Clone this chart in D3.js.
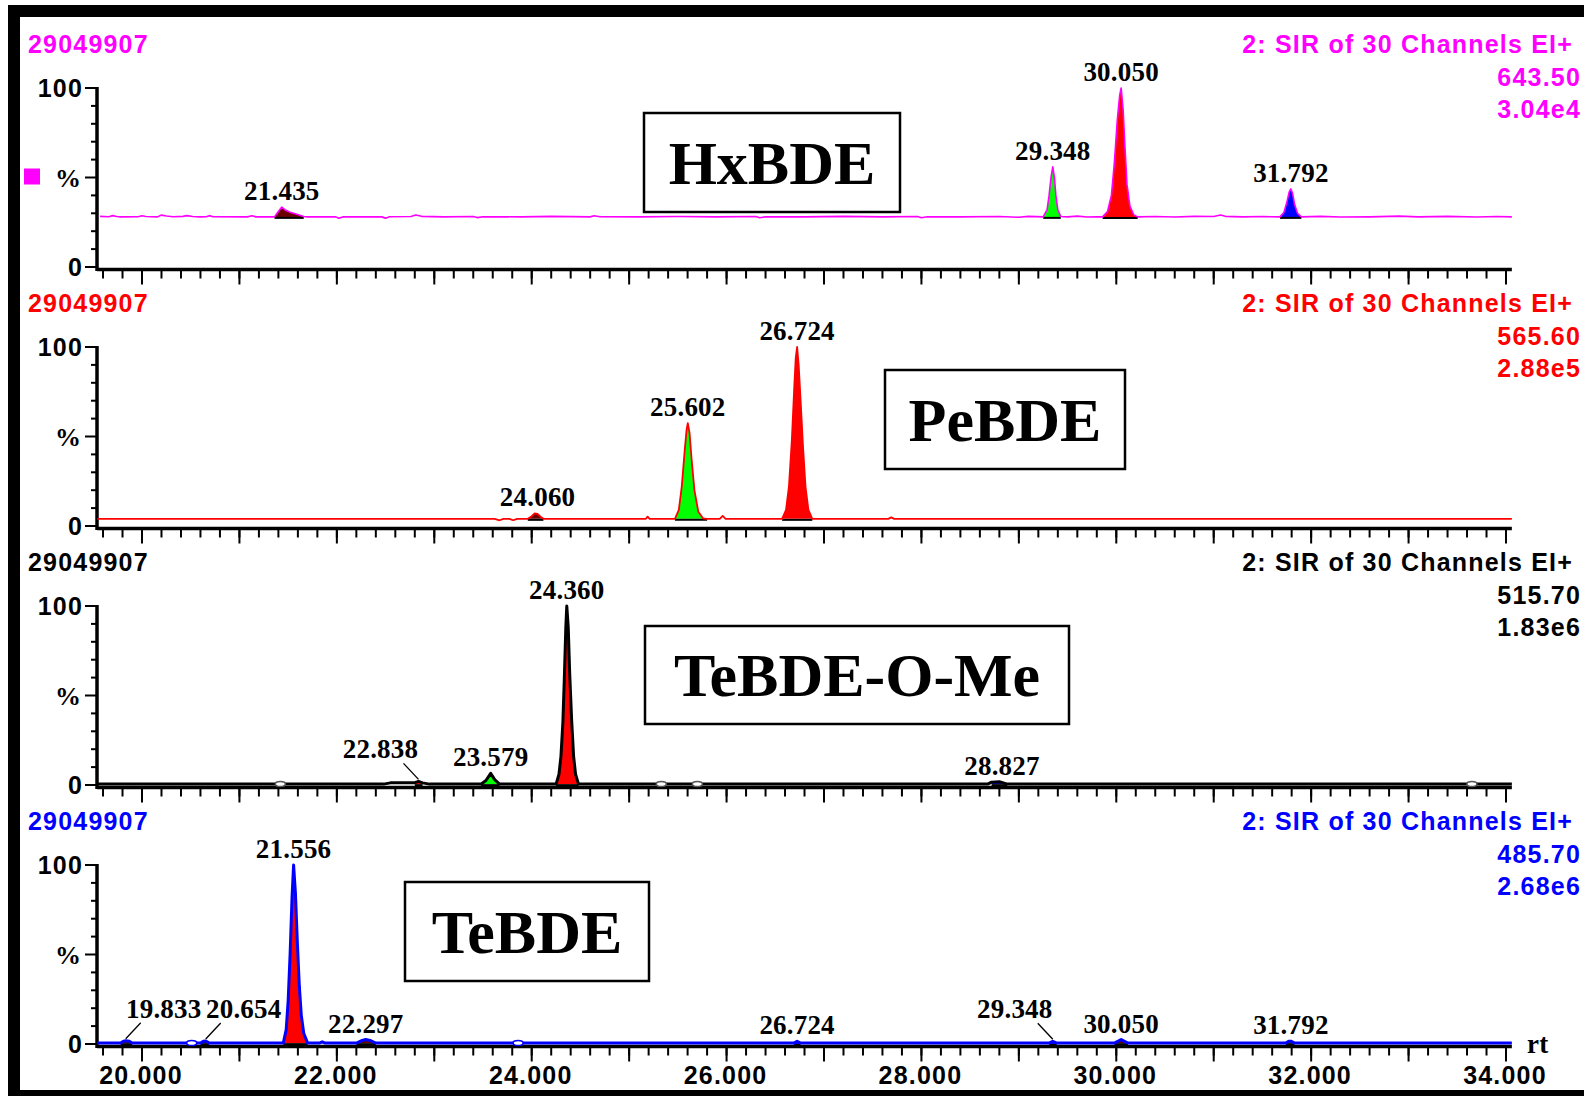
<!DOCTYPE html>
<html>
<head>
<meta charset="utf-8">
<script src="https://cdn.jsdelivr.net/npm/d3@7"></script>
<style>
  body { margin: 0; background: #fff; }
  svg { display: block; }
  .hdr { font: bold 25px "Liberation Sans", Arial, sans-serif; letter-spacing: 1.2px; }
  .pk { font: bold 27px "Liberation Serif", "Times New Roman", serif; letter-spacing: 0.2px; }
  .cmp { font: bold 62px "Liberation Serif", "Times New Roman", serif; }
</style>
</head>
<body>
<svg width="1584" height="1096"></svg>
<script>

// ~~~~~~ DATA ~~~~~~

var compounds = ["HxBDE", "PeBDE", "TeBDE-O-Me", "TeBDE"];
var sampleIds = ["29049907", "29049907", "29049907", "29049907"];
var functionText = ["2: SIR of 30 Channels EI+", "2: SIR of 30 Channels EI+", "2: SIR of 30 Channels EI+", "2: SIR of 30 Channels EI+"];
var ionMass = ["643.50", "565.60", "515.70", "485.70"];
var ionIntensity = ["3.04e4", "2.88e5", "1.83e6", "2.68e6"];

var rtLabels = [20, 22, 24, 26, 28, 30, 32, 34];

// traces: [retention time, % of max]
var traceHx = [
  [19.57,28.3],[19.66,28.1],[19.70,28.7],[19.74,28.2],[19.78,28.0],[19.96,28.1],[20.00,28.6],[20.04,28.2],
  [20.16,28.0],[20.20,29.0],[20.25,28.5],[20.32,28.1],[20.42,28.3],[20.46,28.7],[20.52,28.2],[20.60,28.0],
  [20.66,28.1],[20.69,28.7],[20.73,28.1],[21.08,28.0],[21.13,28.6],[21.17,28.0],[21.36,28.0],[21.40,31.0],
  [21.435,33.5],[21.47,31.8],[21.52,30.6],[21.58,29.6],[21.66,28.2],[21.70,28.0],[21.99,28.0],[22.02,27.2],
  [22.06,28.0],[22.46,28.0],[22.50,27.3],[22.54,28.1],[22.76,28.2],[22.81,29.1],[22.87,28.3],[23.10,28.0],
  [23.40,28.2],[23.44,27.6],[23.50,28.1],[23.90,28.0],[24.20,28.3],[24.60,28.0],[24.64,28.6],[24.70,28.1],
  [25.10,28.0],[25.50,28.2],[25.90,28.0],[26.30,28.2],[26.34,27.5],[26.40,28.1],[26.80,28.0],[27.20,28.3],
  [27.60,28.0],[27.96,28.2],[28.00,27.5],[28.06,28.1],[28.40,28.0],[28.80,28.2],[29.00,27.8],[29.10,28.3],
  [29.25,28.0],[29.29,32],[29.31,40],[29.33,50],[29.348,56],[29.365,50],[29.38,40],[29.40,32],[29.43,28.2],
  [29.50,28.0],[29.60,28.4],[29.70,27.9],[29.80,28.1],
  [29.86,28.0],[29.91,31],[29.95,40],[29.98,58],[30.01,82],[30.035,96],[30.05,100],[30.07,88],[30.09,66],
  [30.11,46],[30.14,34],[30.18,29],[30.22,28.0],
  [30.40,28.2],[30.60,27.9],[30.80,28.3],[31.00,28.2],[31.07,29.0],[31.12,28.3],[31.30,28.0],[31.50,28.2],
  [31.68,28.0],[31.72,30.5],[31.75,36],[31.775,42],[31.792,43.6],[31.81,41],[31.83,35],[31.86,30],[31.90,28.0],
  [32.10,28.3],[32.30,27.9],[32.60,28.0],[32.90,28.4],[33.10,28.0],[33.40,28.3],[33.70,27.9],[33.90,28.2],[34.06,28.0]
];

var tracePe = [
  [19.54,4],[23.62,4],[23.67,3.2],[23.71,4],[23.77,4],[23.81,3.2],[23.85,4],[23.96,4],[24.00,5.5],[24.03,7],
  [24.06,6.8],[24.09,5.2],[24.12,4],[25.17,4],[25.19,5.2],[25.21,4],
  [25.47,4],[25.51,9],[25.54,22],[25.57,42],[25.59,54],[25.602,57.5],[25.62,52],[25.64,38],[25.67,20],[25.71,8],
  [25.76,4.2],[25.80,4],[25.93,4],[25.96,5.6],[25.99,4],
  [26.57,4],[26.61,9],[26.64,22],[26.67,48],[26.695,78],[26.71,94],[26.724,100],[26.74,90],[26.76,70],[26.785,44],
  [26.81,22],[26.84,9],[26.88,4],[27.66,4],[27.69,4.8],[27.72,4],[34.06,4]
];

var traceTeMe = [
  [19.54,0.5],[22.48,0.5],[22.55,1.2],[22.80,1.3],[22.838,2.0],[22.88,1.2],[22.95,0.5],[23.48,0.5],[23.53,2.5],
  [23.579,6.5],[23.62,3],[23.67,0.5],
  [24.25,0.5],[24.28,6],[24.30,16],[24.32,35],[24.335,60],[24.35,88],[24.36,100],[24.375,88],[24.39,62],
  [24.41,36],[24.43,16],[24.45,6],[24.48,0.5],
  [28.68,0.5],[28.72,1.6],[28.80,1.8],[28.84,1.2],[28.88,0.5],[34.06,0.5]
];

var traceTe = [
  [19.54,0.5],[19.78,0.5],[19.81,1.6],[19.833,1.8],[19.87,1.5],[19.90,0.5],[20.60,0.5],[20.63,1.5],[20.654,1.7],
  [20.69,0.5],
  [21.45,0.5],[21.48,8],[21.50,24],[21.52,50],[21.54,82],[21.556,100],[21.575,84],[21.595,56],[21.615,32],
  [21.635,16],[21.66,6],[21.70,0.5],
  [21.82,0.5],[21.85,1.2],[21.88,0.5],[22.20,0.5],[22.25,1.8],
  [22.297,2.5],[22.34,2.0],[22.40,0.5],[26.69,0.5],[26.724,1.5],[26.76,0.5],[29.31,0.5],[29.348,1.5],[29.39,0.5],
  [29.98,0.5],[30.02,1.6],[30.05,2.5],[30.08,1.6],[30.12,0.5],[31.74,0.5],[31.77,1.5],[31.792,1.6],[31.83,0.5],
  [34.06,0.5]
];

// integrated peaks: apex rt, integration window, baseline %, fill kind, leader side
var peaksHx = [
  {rt: 21.435, from: 21.36, to: 21.66, base: 28, kind: "minor", lead: 0},
  {rt: 29.348, from: 29.25, to: 29.43, base: 28, kind: "second", lead: 0},
  {rt: 30.050, from: 29.86, to: 30.22, base: 28, kind: "main", lead: 0},
  {rt: 31.792, from: 31.68, to: 31.90, base: 28, kind: "third", lead: 0}
];
var peaksPe = [
  {rt: 24.060, from: 23.96, to: 24.12, base: 4, kind: "minor", lead: 0},
  {rt: 25.602, from: 25.47, to: 25.80, base: 4, kind: "second", lead: 0},
  {rt: 26.724, from: 26.57, to: 26.88, base: 4, kind: "main", lead: 0}
];
var peaksTeMe = [
  {rt: 22.838, from: 22.80, to: 22.88, base: 0.5, kind: "main", lead: -1},
  {rt: 23.579, from: 23.48, to: 23.67, base: 0.5, kind: "second", lead: 0},
  {rt: 24.360, from: 24.25, to: 24.48, base: 0.5, kind: "main", lead: 0},
  {rt: 28.827, from: 28.72, to: 28.88, base: 0.5, kind: "third", lead: 0}
];
var peaksTe = [
  {rt: 19.833, from: 19.78, to: 19.90, base: 0.5, kind: "minor", lead: 1},
  {rt: 20.654, from: 20.60, to: 20.69, base: 0.5, kind: "minor", lead: 1},
  {rt: 21.556, from: 21.45, to: 21.70, base: 0.5, kind: "main", lead: 0},
  {rt: 22.297, from: 22.20, to: 22.40, base: 0.5, kind: "minor", lead: 0},
  {rt: 26.724, from: 26.69, to: 26.76, base: 0.5, kind: "minor", lead: 0},
  {rt: 29.348, from: 29.31, to: 29.39, base: 0.5, kind: "minor", lead: -1},
  {rt: 30.050, from: 29.98, to: 30.12, base: 0.5, kind: "minor", lead: 0},
  {rt: 31.792, from: 31.74, to: 31.83, base: 0.5, kind: "minor", lead: 0}
];

// small unintegrated blips drawn as open markers
var blipsHx = [];
var blipsPe = [];
var blipsTeMe = [21.42, 25.33, 25.70, 33.65];
var blipsTe = [20.51, 23.86];

var traces = [traceHx, tracePe, traceTeMe, traceTe];
var peaks = [peaksHx, peaksPe, peaksTeMe, peaksTe];
var blips = [blipsHx, blipsPe, blipsTeMe, blipsTe];

// ~~~~~~ STYLE / LAYOUT ~~~~~~

var traceColor = ["#ff00ff", "#ff0000", "#000000", "#0000ff"];
var traceWidth = [1.6, 1.8, 3, 3];
var fillColor = {main: "#ff0000", second: "#00ff00", third: "#0000ff", minor: "#6b0000"};

var boxes = [
  {x: 644, y: 113, w: 256, h: 99},
  {x: 885, y: 370, w: 240, h: 99},
  {x: 645, y: 626, w: 424, h: 98},
  {x: 405, y: 882, w: 244, h: 99}
];

var top0 = 88, step = 259, plotH = 179;

var svg = d3.select("svg");

// frame
svg.append("rect").attr("x", 8).attr("y", 5).attr("width", 1600).attr("height", 1100).attr("fill", "#000");
svg.append("rect").attr("x", 20).attr("y", 17).attr("width", 1600).attr("height", 1073).attr("fill", "#fff");

var x = d3.scaleLinear().domain([20, 34]).range([142, 1506]);

var minorTicks = d3.range(0, 73).map(function(i) { return 19.6 + i * 0.2; });
var majorTicks = d3.range(20, 35, 1);

function drawPanel(i) {
  var y = d3.scaleLinear().domain([0, 100]).range([top0 + i * step + plotH, top0 + i * step]);
  var g = svg.append("g").attr("class", "panel");
  var col = traceColor[i];
  var y0 = y(0);

  // headers
  g.append("text").attr("class", "hdr").attr("x", 28).attr("y", y(100) - 35)
    .attr("fill", col).text(sampleIds[i]);
  g.append("text").attr("class", "hdr").attr("x", 1573).attr("y", y(100) - 35)
    .attr("text-anchor", "end").attr("fill", col).text(functionText[i]);
  g.append("text").attr("class", "hdr").attr("x", 1581).attr("y", y(100) - 2)
    .attr("text-anchor", "end").attr("fill", col).text(ionMass[i]);
  g.append("text").attr("class", "hdr").attr("x", 1581).attr("y", y(100) + 30)
    .attr("text-anchor", "end").attr("fill", col).text(ionIntensity[i]);

  // y axis
  g.append("line").attr("x1", 97).attr("x2", 97).attr("y1", y(100) - 1).attr("y2", y0 + 4)
    .attr("stroke", "#000").attr("stroke-width", 3.5);
  g.selectAll(".ytick").data(d3.range(0, 101, 10)).enter().append("line")
    .attr("x1", function(d) { return d % 50 === 0 ? 85 : 91; }).attr("x2", 97)
    .attr("y1", function(d) { return y(d); }).attr("y2", function(d) { return y(d); })
    .attr("stroke", "#000").attr("stroke-width", 2);
  g.append("text").attr("class", "hdr").attr("x", 83).attr("y", y(100) + 9).attr("text-anchor", "end").text("100");
  g.append("text").attr("class", "hdr").attr("x", 83).attr("y", y(0) + 9).attr("text-anchor", "end").text("0");
  g.append("text").attr("x", 81).attr("y", y(50) + 9).attr("text-anchor", "end")
    .style("font", "bold 26px 'Liberation Serif', serif").text("%");
  if (i === 0) {
    g.append("rect").attr("x", 24).attr("y", y(50) - 9).attr("width", 16).attr("height", 16).attr("fill", col);
  }

  // x axis
  var axY = y0 + 2.5;
  g.append("line").attr("x1", x(19.54)).attr("x2", x(34.06)).attr("y1", axY).attr("y2", axY)
    .attr("stroke", "#000").attr("stroke-width", 3.5);
  g.selectAll(".xminor").data(minorTicks).enter().append("line")
    .attr("x1", function(d) { return x(d); }).attr("x2", function(d) { return x(d); })
    .attr("y1", axY).attr("y2", axY + 9)
    .attr("stroke", "#000").attr("stroke-width", 2);
  g.selectAll(".xmajor").data(majorTicks).enter().append("line")
    .attr("x1", function(d) { return x(d); }).attr("x2", function(d) { return x(d); })
    .attr("y1", axY).attr("y2", axY + 15)
    .attr("stroke", "#000").attr("stroke-width", 2);
  if (i === 3) {
    g.selectAll(".xlab").data(rtLabels).enter().append("text")
      .attr("class", "hdr").attr("text-anchor", "middle")
      .attr("x", function(d) { return x(d) - 1; }).attr("y", y0 + 40)
      .text(function(d) { return d3.format(".3f")(d); });
    g.append("text").attr("class", "pk").attr("x", 1527).attr("y", y0 + 9).text("rt");
  }

  // peak fills
  var area = d3.area()
    .x(function(d) { return x(d[0]); })
    .y1(function(d) { return y(d[1]); });
  peaks[i].forEach(function(p) {
    var pts = traces[i].filter(function(d) { return d[0] >= p.from && d[0] <= p.to; });
    g.append("path").attr("d", area.y0(y(p.base))(pts)).attr("fill", fillColor[p.kind]);
    g.append("line").attr("x1", x(p.from)).attr("x2", x(p.to)).attr("y1", y(p.base) + 1).attr("y2", y(p.base) + 1)
      .attr("stroke", "#000").attr("stroke-width", 2);
  });

  // trace
  var line = d3.line().x(function(d) { return x(d[0]); }).y(function(d) { return y(d[1]); });
  g.append("path").attr("d", line(traces[i])).attr("fill", "none")
    .attr("stroke", col).attr("stroke-width", traceWidth[i]).attr("stroke-linejoin", "round");

  // blips
  g.selectAll(".blip").data(blips[i]).enter().append("ellipse")
    .attr("cx", function(d) { return x(d); }).attr("cy", y0 - 1)
    .attr("rx", 5).attr("ry", 2.5)
    .attr("fill", "#fff").attr("stroke", col === "#000000" ? "#555" : col).attr("stroke-width", 1.5);

  // peak labels
  peaks[i].forEach(function(p) {
    var top = d3.max(traces[i].filter(function(d) { return d[0] >= p.from && d[0] <= p.to; }), function(d) { return d[1]; });
    var px = x(p.rt), py = y(top);
    if (p.lead !== 0) {
      g.append("line").attr("x1", px).attr("y1", py - 2).attr("x2", px + p.lead * 15).attr("y2", py - 18)
        .attr("stroke", "#000").attr("stroke-width", 1.3);
      g.append("text").attr("class", "pk").attr("text-anchor", "middle")
        .attr("x", px + p.lead * 38).attr("y", py - 23).text(d3.format(".3f")(p.rt));
    } else {
      g.append("text").attr("class", "pk").attr("text-anchor", "middle")
        .attr("x", px).attr("y", py - 7).text(d3.format(".3f")(p.rt));
    }
  });

  // compound box
  var b = boxes[i];
  g.append("rect").attr("x", b.x).attr("y", b.y).attr("width", b.w).attr("height", b.h)
    .attr("fill", "#fff").attr("stroke", "#000").attr("stroke-width", 2.5);
  g.append("text").attr("class", "cmp").attr("text-anchor", "middle")
    .attr("x", b.x + b.w / 2).attr("y", b.y + b.h / 2 + 21).text(compounds[i]);
}

for (var i = 0; i < 4; i++) drawPanel(i);

</script>
</body>
</html>
